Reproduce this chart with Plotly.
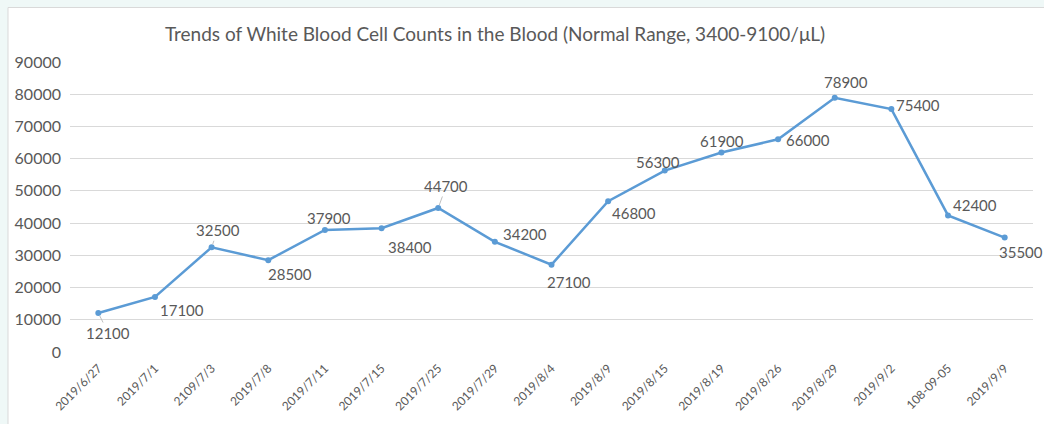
import plotly.graph_objects as go

dates = ["2019/6/27", "2019/7/1", "2109/7/3", "2019/7/8", "2019/7/11", "2019/7/15",
         "2019/7/25", "2019/7/29", "2019/8/4", "2019/8/9", "2019/8/15", "2019/8/19",
         "2019/8/26", "2019/8/29", "2019/9/2", "108-09-05", "2019/9/9"]
wbc = [12100, 17100, 32500, 28500, 37900, 38400, 44700, 34200, 27100, 46800,
       56300, 61900, 66000, 78900, 75400, 42400, 35500]
y_ticks = [0, 10000, 20000, 30000, 40000, 50000, 60000, 70000, 80000, 90000]
y_tick_labels = [str(t) for t in y_ticks]

# label offsets (pixels) from each point, and whether a leader line is drawn
label_dx = [10, 27, 6, 22, 4, 28, 8, 30, 17, 26, -7, 1, 30, 11, 27, 27, 16]
label_dy = [20, 13, -17, 14, -12, 19, -22, -8, 17, 12, -9, -12, 1, -16, -4, -10, 14]
leader = [True, False, True, False, False, False, True, False, False, False,
          False, False, False, False, False, False, False]

FONT = "Lato, 'Open Sans', sans-serif"
TXT = "#595959"
BLUE = "#5b9bd5"

fig = go.Figure()
fig.add_trace(go.Scatter(
    x=dates, y=wbc, mode="lines+markers",
    line=dict(color=BLUE, width=2.5),
    marker=dict(color=BLUE, size=6),
    hoverinfo="x+y", showlegend=False,
))

for d, v, dx, dy, ld in zip(dates, wbc, label_dx, label_dy, leader):
    fig.add_annotation(
        x=d, y=v, xref="x", yref="y", text=str(v),
        showarrow=True, ax=dx, ay=dy, axref="pixel", ayref="pixel",
        arrowhead=0, arrowwidth=1,
        arrowcolor="#bfbfbf" if ld else "rgba(0,0,0,0)",
        standoff=3,
        font=dict(family=FONT, size=15, color=TXT),
    )

# outer frame: white chart area on light teal background
fig.add_shape(type="rect", xref="paper", yref="paper",
              x0=(8 - 70) / 963, x1=(1050 - 70) / 963,
              y0=(352 - 430) / 290, y1=(352 - 7.5) / 290,
              fillcolor="white", line=dict(color="#d9d9d9", width=1), layer="below")

fig.update_layout(
    width=1044, height=424,
    margin=dict(l=70, r=11, t=62, b=72, autoexpand=False),
    paper_bgcolor="#eff8f7",
    plot_bgcolor="rgba(0,0,0,0)",
    title=dict(
        text="Trends of White Blood Cell Counts in the Blood (Normal Range, 3400-9100/μL)",
        x=495 / 1044, xanchor="center", xref="container",
        y=1 - 34 / 424, yanchor="middle", yref="container", automargin=False,
        font=dict(family=FONT, size=19, color=TXT),
    ),
    xaxis=dict(
        type="category", showgrid=False, zeroline=False, showline=False,
        tickangle=-45, tickfont=dict(family=FONT, size=12, color=TXT),
        ticks="", range=[-0.5, len(dates) - 0.5], automargin=False,
        ticklabelstandoff=6,
    ),
    yaxis=dict(
        range=[0, 90000], tickvals=y_ticks, ticktext=y_tick_labels,
        showgrid=True, gridcolor="#d9d9d9",
        gridwidth=1, zeroline=False, showline=False, ticks="", automargin=False,
        tickfont=dict(family=FONT, size=16, color=TXT), ticklabelstandoff=8,
    ),
    font=dict(family=FONT, color=TXT),
)

fig.write_html(
    "out.html",
    config={"displayModeBar": False},
    post_script="document.body.style.margin='0';document.body.style.overflow='hidden';",
)
